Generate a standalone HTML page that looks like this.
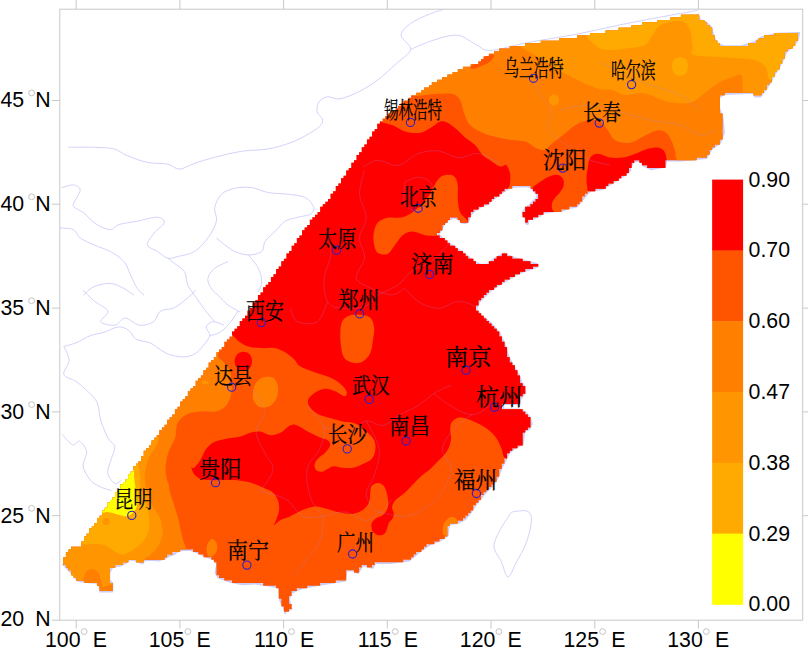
<!DOCTYPE html>
<html lang="zh"><head><meta charset="utf-8"><title>map</title>
<style>
html,body{margin:0;padding:0;background:#fff;}
body{width:808px;height:654px;position:relative;overflow:hidden;font-family:"Liberation Sans","Noto Sans CJK SC",sans-serif;}
.t{position:absolute;white-space:pre;line-height:1;color:#000;}
.ax{font-size:21.3px;}
.city{-webkit-text-stroke:0.25px #000;font-family:"Liberation Serif","Noto Serif CJK SC",serif;transform-origin:0 0;}
</style></head><body>
<svg width="808" height="654" viewBox="0 0 808 654" style="position:absolute;left:0;top:0">
<defs><clipPath id="land"><path d="M385.11,118.62 L385.11,116.02 L387.7,116.02 L387.7,113.43 L390.3,113.43 L390.3,110.83 L392.89,110.83 L395.49,110.83 L395.49,108.23 L398.08,108.23 L398.08,105.64 L400.68,105.64 L400.68,103.05 L403.27,103.05 L403.27,100.45 L405.87,100.45 L408.46,100.45 L408.46,97.86 L411.06,97.86 L411.06,95.26 L413.65,95.26 L416.25,95.26 L416.25,92.67 L418.84,92.67 L421.44,92.67 L421.44,90.07 L424.03,90.07 L424.03,87.47 L426.63,87.47 L429.22,87.47 L429.22,84.88 L431.82,84.88 L431.82,82.28 L434.41,82.28 L437.01,82.28 L437.01,79.69 L439.6,79.69 L442.2,79.69 L442.2,77.09 L444.79,77.09 L447.39,77.09 L447.39,74.5 L449.98,74.5 L452.58,74.5 L452.58,71.91 L455.17,71.91 L457.77,71.91 L457.77,69.31 L460.36,69.31 L462.96,69.31 L462.96,66.72 L465.55,66.72 L468.15,66.72 L470.74,66.72 L470.74,64.12 L473.34,64.12 L475.93,64.12 L478.53,64.12 L478.53,61.52 L481.12,61.52 L481.12,58.93 L483.72,58.93 L483.72,56.34 L486.31,56.34 L488.91,56.34 L488.91,53.74 L491.5,53.74 L494.1,53.74 L494.1,51.14 L496.69,51.14 L499.29,51.14 L499.29,48.55 L501.88,48.55 L504.48,48.55 L507.07,48.55 L509.67,48.55 L509.67,45.95 L512.26,45.95 L514.86,45.95 L517.45,45.95 L520.05,45.95 L522.64,45.95 L525.24,45.95 L525.24,43.36 L527.83,43.36 L530.43,43.36 L533.02,43.36 L535.62,43.36 L538.21,43.36 L540.81,43.36 L540.81,40.77 L543.4,40.77 L546,40.77 L548.59,40.77 L551.19,40.77 L553.78,40.77 L556.38,40.77 L558.97,40.77 L558.97,38.17 L561.57,38.17 L564.16,38.17 L566.75,38.17 L569.35,38.17 L571.95,38.17 L574.54,38.17 L577.13,38.17 L577.13,35.58 L579.73,35.58 L582.33,35.58 L584.92,35.58 L587.51,35.58 L590.11,35.58 L590.11,32.98 L592.71,32.98 L595.3,32.98 L597.89,32.98 L600.49,32.98 L603.09,32.98 L605.68,32.98 L605.68,30.38 L608.27,30.38 L610.87,30.38 L613.47,30.38 L616.06,30.38 L618.65,30.38 L618.65,27.79 L621.25,27.79 L623.85,27.79 L626.44,27.79 L629.03,27.79 L631.63,27.79 L631.63,25.19 L634.23,25.19 L636.82,25.19 L639.41,25.19 L642.01,25.19 L642.01,22.6 L644.61,22.6 L647.2,22.6 L649.79,22.6 L652.39,22.6 L654.99,22.6 L657.58,22.6 L657.58,20 L660.17,20 L662.77,20 L665.37,20 L667.96,20 L670.55,20 L670.55,17.41 L673.15,17.41 L675.75,17.41 L678.34,17.41 L680.93,17.41 L680.93,14.81 L683.53,14.81 L686.12,14.81 L688.72,14.81 L691.32,14.81 L693.91,14.81 L696.5,14.81 L699.1,14.81 L699.1,17.41 L699.1,20 L701.7,20 L704.29,20 L704.29,22.6 L706.88,22.6 L706.88,25.19 L709.48,25.19 L709.48,27.79 L712.08,27.79 L712.08,30.38 L712.08,32.98 L712.08,35.58 L714.67,35.58 L714.67,38.17 L714.67,40.77 L717.26,40.77 L717.26,43.36 L719.86,43.36 L719.86,45.95 L722.46,45.95 L725.05,45.95 L727.64,45.95 L730.24,45.95 L732.84,45.95 L735.43,45.95 L738.02,45.95 L740.62,45.95 L743.22,45.95 L745.81,45.95 L748.4,45.95 L748.4,43.36 L751,43.36 L753.6,43.36 L756.19,43.36 L756.19,40.77 L758.78,40.77 L758.78,38.17 L761.38,38.17 L763.98,38.17 L763.98,35.58 L766.57,35.58 L769.16,35.58 L771.76,35.58 L774.36,35.58 L774.36,32.98 L776.95,32.98 L779.54,32.98 L782.14,32.98 L784.74,32.98 L787.33,32.98 L789.92,32.98 L792.52,32.98 L795.12,32.98 L797.71,32.98 L797.71,35.58 L797.71,38.17 L797.71,40.77 L795.12,40.77 L795.12,43.36 L795.12,45.95 L792.52,45.95 L792.52,48.55 L789.92,48.55 L787.33,48.55 L787.33,51.14 L784.74,51.14 L784.74,53.74 L784.74,56.34 L784.74,58.93 L782.14,58.93 L782.14,61.52 L782.14,64.12 L779.54,64.12 L779.54,66.72 L779.54,69.31 L776.95,69.31 L776.95,71.91 L774.36,71.91 L774.36,74.5 L774.36,77.09 L771.76,77.09 L771.76,79.69 L771.76,82.28 L769.16,82.28 L769.16,84.88 L766.57,84.88 L766.57,87.47 L766.57,90.07 L763.98,90.07 L763.98,92.67 L761.38,92.67 L761.38,95.26 L758.78,95.26 L756.19,95.26 L753.6,95.26 L753.6,92.67 L751,92.67 L748.4,92.67 L745.81,92.67 L743.22,92.67 L740.62,92.67 L738.02,92.67 L735.43,92.67 L732.84,92.67 L730.24,92.67 L727.64,92.67 L725.05,92.67 L725.05,95.26 L722.46,95.26 L719.86,95.26 L719.86,97.86 L719.86,100.45 L719.86,103.05 L719.86,105.64 L719.86,108.23 L719.86,110.83 L719.86,113.43 L722.46,113.43 L722.46,116.02 L722.46,118.62 L722.46,121.21 L722.46,123.81 L722.46,126.4 L722.46,129 L722.46,131.59 L725.05,131.59 L722.46,131.59 L722.46,134.19 L722.46,136.78 L722.46,139.38 L719.86,139.38 L719.86,141.97 L719.86,144.56 L717.26,144.56 L714.67,144.56 L714.67,147.16 L712.08,147.16 L712.08,149.75 L709.48,149.75 L709.48,152.35 L709.48,154.94 L706.88,154.94 L706.88,157.54 L704.29,157.54 L701.7,157.54 L699.1,157.54 L696.5,157.54 L696.5,160.13 L693.91,160.13 L691.32,160.13 L688.72,160.13 L686.12,160.13 L683.53,160.13 L680.93,160.13 L678.34,160.13 L675.75,160.13 L673.15,160.13 L670.55,160.13 L667.96,160.13 L665.37,160.13 L665.37,162.73 L665.37,165.32 L665.37,167.92 L662.77,167.92 L660.17,167.92 L657.58,167.92 L654.99,167.92 L652.39,167.92 L649.79,167.92 L647.2,167.92 L647.2,165.32 L644.61,165.32 L642.01,165.32 L642.01,162.73 L639.41,162.73 L639.41,160.13 L636.82,160.13 L634.23,160.13 L634.23,162.73 L631.63,162.73 L631.63,165.32 L631.63,167.92 L629.03,167.92 L629.03,170.52 L631.63,170.52 L629.03,170.52 L629.03,173.11 L626.44,173.11 L626.44,175.71 L623.85,175.71 L621.25,175.71 L621.25,178.3 L618.65,178.3 L618.65,180.9 L616.06,180.9 L613.47,180.9 L613.47,183.49 L610.87,183.49 L608.27,183.49 L608.27,186.09 L605.68,186.09 L605.68,188.68 L603.09,188.68 L600.49,188.68 L597.89,188.68 L595.3,188.68 L595.3,191.28 L592.71,191.28 L590.11,191.28 L587.51,191.28 L587.51,193.87 L584.92,193.87 L584.92,196.47 L582.33,196.47 L582.33,199.06 L582.33,201.66 L579.73,201.66 L579.73,204.25 L577.13,204.25 L577.13,206.85 L574.54,206.85 L571.95,206.85 L569.35,206.85 L569.35,209.44 L566.75,209.44 L564.16,209.44 L561.57,209.44 L561.57,212.04 L558.97,212.04 L556.38,212.04 L553.78,212.04 L551.19,212.04 L548.59,212.04 L546,212.04 L543.4,212.04 L543.4,214.63 L540.81,214.63 L538.21,214.63 L538.21,217.23 L535.62,217.23 L533.02,217.23 L533.02,219.82 L530.43,219.82 L527.83,219.82 L527.83,222.42 L527.83,225.01 L527.83,222.42 L525.24,222.42 L525.24,219.82 L525.24,217.23 L522.64,217.23 L522.64,214.63 L522.64,212.04 L525.24,212.04 L525.24,209.44 L525.24,206.85 L527.83,206.85 L530.43,206.85 L530.43,204.25 L533.02,204.25 L533.02,201.66 L535.62,201.66 L535.62,199.06 L538.21,199.06 L538.21,196.47 L538.21,193.87 L535.62,193.87 L535.62,191.28 L533.02,191.28 L533.02,188.68 L530.43,188.68 L530.43,186.09 L527.83,186.09 L525.24,186.09 L522.64,186.09 L520.05,186.09 L517.45,186.09 L514.86,186.09 L512.26,186.09 L512.26,188.68 L509.67,188.68 L507.07,188.68 L504.48,188.68 L504.48,191.28 L501.88,191.28 L501.88,193.87 L499.29,193.87 L499.29,196.47 L496.69,196.47 L494.1,196.47 L494.1,199.06 L491.5,199.06 L491.5,201.66 L488.91,201.66 L488.91,204.25 L486.31,204.25 L483.72,204.25 L483.72,206.85 L481.12,206.85 L478.53,206.85 L478.53,209.44 L475.93,209.44 L473.34,209.44 L473.34,212.04 L470.74,212.04 L470.74,214.63 L470.74,217.23 L468.15,217.23 L468.15,219.82 L468.15,222.42 L465.55,222.42 L462.96,222.42 L460.36,222.42 L460.36,219.82 L457.77,219.82 L457.77,217.23 L455.17,217.23 L452.58,217.23 L449.98,217.23 L449.98,219.82 L447.39,219.82 L447.39,222.42 L444.79,222.42 L444.79,225.01 L442.2,225.01 L442.2,227.61 L442.2,230.2 L439.6,230.2 L439.6,232.8 L437.01,232.8 L437.01,235.39 L439.6,235.39 L439.6,237.99 L442.2,237.99 L444.79,237.99 L444.79,240.58 L447.39,240.58 L447.39,243.18 L449.98,243.18 L449.98,245.77 L452.58,245.77 L455.17,245.77 L455.17,248.37 L457.77,248.37 L457.77,250.96 L460.36,250.96 L462.96,250.96 L462.96,253.56 L465.55,253.56 L465.55,256.15 L468.15,256.15 L468.15,258.75 L470.74,258.75 L473.34,258.75 L473.34,261.34 L475.93,261.34 L475.93,263.94 L478.53,263.94 L481.12,263.94 L483.72,263.94 L486.31,263.94 L488.91,263.94 L488.91,261.34 L491.5,261.34 L494.1,261.34 L494.1,258.75 L496.69,258.75 L496.69,256.15 L499.29,256.15 L501.88,256.15 L501.88,253.56 L504.48,253.56 L507.07,253.56 L507.07,256.15 L509.67,256.15 L512.26,256.15 L512.26,258.75 L514.86,258.75 L517.45,258.75 L520.05,258.75 L522.64,258.75 L522.64,261.34 L525.24,261.34 L527.83,261.34 L530.43,261.34 L530.43,263.94 L533.02,263.94 L535.62,263.94 L538.21,263.94 L538.21,266.53 L535.62,266.53 L533.02,266.53 L533.02,269.12 L530.43,269.12 L527.83,269.12 L525.24,269.12 L525.24,271.72 L522.64,271.72 L520.05,271.72 L520.05,274.31 L517.45,274.31 L514.86,274.31 L514.86,276.91 L512.26,276.91 L509.67,276.91 L509.67,279.5 L507.07,279.5 L504.48,279.5 L504.48,282.1 L501.88,282.1 L501.88,284.69 L499.29,284.69 L496.69,284.69 L496.69,287.29 L494.1,287.29 L494.1,289.88 L491.5,289.88 L488.91,289.88 L488.91,292.48 L486.31,292.48 L486.31,295.08 L483.72,295.08 L483.72,297.67 L481.12,297.67 L481.12,300.27 L478.53,300.27 L478.53,302.86 L478.53,305.46 L475.93,305.46 L475.93,308.05 L475.93,310.65 L478.53,310.65 L478.53,313.24 L481.12,313.24 L481.12,315.84 L483.72,315.84 L483.72,318.43 L486.31,318.43 L486.31,321.03 L488.91,321.03 L488.91,323.62 L491.5,323.62 L491.5,326.22 L494.1,326.22 L494.1,328.81 L496.69,328.81 L496.69,331.41 L499.29,331.41 L499.29,334 L499.29,336.6 L501.88,336.6 L501.88,339.19 L501.88,341.79 L504.48,341.79 L504.48,344.38 L504.48,346.98 L507.07,346.98 L507.07,349.57 L507.07,352.17 L507.07,354.76 L507.07,357.36 L509.67,357.36 L509.67,359.95 L509.67,362.55 L512.26,362.55 L512.26,365.14 L514.86,365.14 L514.86,367.74 L514.86,370.33 L517.45,370.33 L517.45,372.93 L517.45,375.52 L520.05,375.52 L520.05,378.12 L520.05,380.71 L520.05,383.31 L522.64,383.31 L520.05,383.31 L520.05,380.71 L520.05,383.31 L522.64,383.31 L522.64,385.9 L525.24,385.9 L525.24,388.5 L525.24,391.09 L525.24,393.69 L522.64,393.69 L522.64,396.28 L520.05,396.28 L520.05,398.88 L520.05,401.47 L520.05,404.06 L517.45,404.06 L514.86,404.06 L512.26,404.06 L509.67,404.06 L507.07,404.06 L504.48,404.06 L501.88,404.06 L501.88,406.66 L501.88,409.25 L504.48,409.25 L507.07,409.25 L509.67,409.25 L512.26,409.25 L514.86,409.25 L517.45,409.25 L520.05,409.25 L522.64,409.25 L522.64,411.85 L525.24,411.85 L525.24,414.44 L527.83,414.44 L527.83,417.04 L530.43,417.04 L530.43,419.63 L530.43,422.23 L530.43,424.82 L530.43,427.42 L527.83,427.42 L527.83,430.01 L525.24,430.01 L525.24,432.61 L522.64,432.61 L522.64,435.21 L522.64,437.8 L522.64,440.4 L522.64,442.99 L522.64,445.59 L520.05,445.59 L517.45,445.59 L517.45,448.18 L514.86,448.18 L512.26,448.18 L512.26,450.78 L509.67,450.78 L509.67,453.37 L507.07,453.37 L507.07,455.97 L507.07,458.56 L504.48,458.56 L504.48,461.16 L504.48,463.75 L501.88,463.75 L501.88,466.35 L501.88,468.94 L499.29,468.94 L499.29,471.54 L499.29,474.13 L499.29,476.73 L496.69,476.73 L496.69,479.32 L496.69,481.92 L494.1,481.92 L494.1,484.51 L491.5,484.51 L491.5,487.11 L488.91,487.11 L488.91,489.7 L486.31,489.7 L486.31,492.3 L483.72,492.3 L483.72,494.89 L481.12,494.89 L481.12,497.49 L481.12,500.08 L478.53,500.08 L478.53,502.68 L475.93,502.68 L475.93,505.27 L473.34,505.27 L473.34,507.87 L473.34,510.46 L470.74,510.46 L470.74,513.06 L468.15,513.06 L468.15,515.65 L465.55,515.65 L465.55,518.25 L462.96,518.25 L462.96,520.84 L460.36,520.84 L457.77,520.84 L457.77,523.44 L455.17,523.44 L452.58,523.44 L449.98,523.44 L449.98,526.03 L447.39,526.03 L447.39,528.62 L447.39,531.22 L447.39,533.82 L447.39,536.41 L444.79,536.41 L444.79,539 L442.2,539 L439.6,539 L439.6,541.6 L437.01,541.6 L434.41,541.6 L434.41,544.2 L431.82,544.2 L429.22,544.2 L426.63,544.2 L426.63,546.79 L424.03,546.79 L424.03,549.39 L421.44,549.39 L421.44,551.98 L418.84,551.98 L416.25,551.98 L416.25,554.58 L413.65,554.58 L413.65,557.17 L411.06,557.17 L411.06,559.77 L408.46,559.77 L405.87,559.77 L403.27,559.77 L403.27,562.36 L400.68,562.36 L398.08,562.36 L395.49,562.36 L392.89,562.36 L390.3,562.36 L387.7,562.36 L385.11,562.36 L382.51,562.36 L379.92,562.36 L377.32,562.36 L374.73,562.36 L374.73,564.96 L372.13,564.96 L372.13,567.55 L369.54,567.55 L366.94,567.55 L366.94,564.96 L364.35,564.96 L361.75,564.96 L361.75,567.55 L359.16,567.55 L359.16,570.15 L359.16,572.74 L356.56,572.74 L353.97,572.74 L353.97,570.15 L351.37,570.15 L348.78,570.15 L346.18,570.15 L346.18,572.74 L346.18,575.34 L346.18,577.93 L346.18,580.53 L343.59,580.53 L340.99,580.53 L338.4,580.53 L335.8,580.53 L335.8,583.12 L333.21,583.12 L330.61,583.12 L328.02,583.12 L325.42,583.12 L322.82,583.12 L320.23,583.12 L320.23,585.72 L317.63,585.72 L315.04,585.72 L312.44,585.72 L309.85,585.72 L307.25,585.72 L307.25,588.31 L304.66,588.31 L302.06,588.31 L299.47,588.31 L296.88,588.31 L296.88,590.91 L294.28,590.91 L291.69,590.91 L291.69,593.5 L291.69,596.1 L289.09,596.1 L289.09,598.69 L289.09,601.29 L289.09,603.88 L291.69,603.88 L291.69,606.48 L291.69,609.07 L289.09,609.07 L289.09,611.67 L286.5,611.67 L283.9,611.67 L286.5,611.67 L283.9,611.67 L283.9,609.07 L283.9,606.48 L281.31,606.48 L281.31,603.88 L281.31,601.29 L281.31,598.69 L278.71,598.69 L278.71,596.1 L278.71,593.5 L278.71,590.91 L278.71,588.31 L276.12,588.31 L276.12,585.72 L273.52,585.72 L270.93,585.72 L268.33,585.72 L265.74,585.72 L263.14,585.72 L263.14,583.12 L260.55,583.12 L257.95,583.12 L255.36,583.12 L252.76,583.12 L250.17,583.12 L247.57,583.12 L244.98,583.12 L242.38,583.12 L239.79,583.12 L237.19,583.12 L234.6,583.12 L232,583.12 L232,580.53 L229.41,580.53 L226.81,580.53 L224.22,580.53 L224.22,577.93 L221.62,577.93 L219.03,577.93 L219.03,575.34 L216.43,575.34 L216.43,572.74 L216.43,570.15 L216.43,567.55 L216.43,564.96 L216.43,562.36 L213.83,562.36 L213.83,559.77 L211.24,559.77 L211.24,557.17 L208.64,557.17 L206.05,557.17 L203.46,557.17 L203.46,554.58 L200.86,554.58 L198.26,554.58 L198.26,551.98 L195.67,551.98 L193.07,551.98 L193.07,549.39 L190.48,549.39 L187.88,549.39 L185.29,549.39 L182.69,549.39 L180.1,549.39 L180.1,551.98 L177.5,551.98 L174.91,551.98 L172.31,551.98 L172.31,554.58 L169.72,554.58 L167.12,554.58 L167.12,557.17 L164.53,557.17 L161.94,557.17 L161.94,559.77 L159.34,559.77 L161.94,559.77 L161.94,557.17 L164.53,557.17 L167.12,557.17 L169.72,557.17 L169.72,554.58 L172.31,554.58 L174.91,554.58 L172.31,554.58 L169.72,554.58 L169.72,557.17 L167.12,557.17 L164.53,557.17 L164.53,559.77 L161.94,559.77 L159.34,559.77 L156.75,559.77 L154.15,559.77 L151.56,559.77 L148.96,559.77 L146.37,559.77 L143.77,559.77 L143.77,562.36 L141.18,562.36 L138.58,562.36 L135.99,562.36 L135.99,559.77 L133.39,559.77 L130.8,559.77 L128.2,559.77 L128.2,562.36 L125.61,562.36 L123.01,562.36 L123.01,564.96 L120.41,564.96 L117.82,564.96 L115.22,564.96 L115.22,567.55 L112.63,567.55 L110.03,567.55 L110.03,570.15 L110.03,572.74 L110.03,575.34 L110.03,577.93 L110.03,580.53 L110.03,583.12 L112.63,583.12 L112.63,585.72 L112.63,588.31 L112.63,590.91 L110.03,590.91 L107.44,590.91 L104.84,590.91 L102.25,590.91 L99.66,590.91 L99.66,588.31 L99.66,585.72 L97.06,585.72 L97.06,583.12 L94.47,583.12 L91.87,583.12 L89.28,583.12 L86.68,583.12 L84.08,583.12 L84.08,580.53 L81.49,580.53 L78.89,580.53 L76.3,580.53 L76.3,577.93 L73.7,577.93 L73.7,575.34 L71.11,575.34 L71.11,572.74 L71.11,570.15 L68.52,570.15 L68.52,567.55 L65.92,567.55 L65.92,564.96 L63.32,564.96 L63.32,562.36 L63.32,559.77 L63.32,557.17 L65.92,557.17 L65.92,554.58 L65.92,551.98 L68.52,551.98 L68.52,549.39 L71.11,549.39 L71.11,546.79 L73.7,546.79 L76.3,546.79 L78.89,546.79 L81.49,546.79 L81.49,544.2 L81.49,541.6 L84.08,541.6 L84.08,539 L84.08,536.41 L86.68,536.41 L86.68,533.82 L89.28,533.82 L89.28,531.22 L89.28,528.62 L91.87,528.62 L91.87,526.03 L94.47,526.03 L94.47,523.44 L97.06,523.44 L97.06,520.84 L97.06,518.25 L99.66,518.25 L99.66,515.65 L102.25,515.65 L102.25,513.06 L102.25,510.46 L104.84,510.46 L104.84,507.87 L107.44,507.87 L107.44,505.27 L107.44,502.68 L110.03,502.68 L110.03,500.08 L112.63,500.08 L112.63,497.49 L115.22,497.49 L115.22,494.89 L115.22,492.3 L117.82,492.3 L117.82,489.7 L120.41,489.7 L120.41,487.11 L120.41,484.51 L123.01,484.51 L123.01,481.92 L125.61,481.92 L125.61,479.32 L128.2,479.32 L128.2,476.73 L128.2,474.13 L130.8,474.13 L130.8,471.54 L133.39,471.54 L133.39,468.94 L133.39,466.35 L135.99,466.35 L135.99,463.75 L138.58,463.75 L138.58,461.16 L141.18,461.16 L141.18,458.56 L141.18,455.97 L143.77,455.97 L143.77,453.37 L143.77,450.78 L146.37,450.78 L146.37,448.18 L148.96,448.18 L148.96,445.59 L151.56,445.59 L151.56,442.99 L151.56,440.4 L154.15,440.4 L154.15,437.8 L156.75,437.8 L156.75,435.21 L159.34,435.21 L159.34,432.61 L159.34,430.01 L161.94,430.01 L161.94,427.42 L164.53,427.42 L164.53,424.82 L167.12,424.82 L167.12,422.23 L167.12,419.63 L169.72,419.63 L169.72,417.04 L172.31,417.04 L172.31,414.44 L174.91,414.44 L174.91,411.85 L174.91,409.25 L177.5,409.25 L177.5,406.66 L180.1,406.66 L180.1,404.06 L180.1,401.47 L182.69,401.47 L182.69,398.88 L185.29,398.88 L185.29,396.28 L187.88,396.28 L187.88,393.69 L187.88,391.09 L190.48,391.09 L190.48,388.5 L193.07,388.5 L193.07,385.9 L195.67,385.9 L195.67,383.31 L195.67,380.71 L198.26,380.71 L198.26,378.12 L200.86,378.12 L200.86,375.52 L203.46,375.52 L203.46,372.93 L203.46,370.33 L206.05,370.33 L206.05,367.74 L208.64,367.74 L208.64,365.14 L208.64,362.55 L211.24,362.55 L211.24,359.95 L213.83,359.95 L213.83,357.36 L216.43,357.36 L216.43,354.76 L216.43,352.17 L219.03,352.17 L219.03,349.57 L221.62,349.57 L221.62,346.98 L224.22,346.98 L224.22,344.38 L224.22,341.79 L226.81,341.79 L226.81,339.19 L229.41,339.19 L229.41,336.6 L232,336.6 L232,334 L232,331.41 L234.6,331.41 L234.6,328.81 L237.19,328.81 L237.19,326.22 L239.79,326.22 L239.79,323.62 L239.79,321.03 L242.38,321.03 L242.38,318.43 L244.98,318.43 L244.98,315.84 L247.57,315.84 L247.57,313.24 L247.57,310.65 L250.17,310.65 L250.17,308.05 L252.76,308.05 L252.76,305.46 L252.76,302.86 L255.36,302.86 L255.36,300.27 L257.95,300.27 L257.95,297.67 L257.95,295.08 L260.55,295.08 L260.55,292.48 L263.14,292.48 L263.14,289.88 L263.14,287.29 L265.74,287.29 L265.74,284.69 L268.33,284.69 L268.33,282.1 L270.93,282.1 L270.93,279.5 L270.93,276.91 L273.52,276.91 L273.52,274.31 L276.12,274.31 L276.12,271.72 L276.12,269.12 L278.71,269.12 L278.71,266.53 L281.31,266.53 L281.31,263.94 L281.31,261.34 L283.9,261.34 L283.9,258.75 L286.5,258.75 L286.5,256.15 L286.5,253.56 L289.09,253.56 L289.09,250.96 L291.69,250.96 L291.69,248.37 L291.69,245.77 L294.28,245.77 L294.28,243.18 L296.88,243.18 L296.88,240.58 L296.88,237.99 L299.47,237.99 L299.47,235.39 L302.06,235.39 L302.06,232.8 L302.06,230.2 L304.66,230.2 L304.66,227.61 L307.25,227.61 L307.25,225.01 L309.85,225.01 L309.85,222.42 L309.85,219.82 L312.44,219.82 L312.44,217.23 L315.04,217.23 L315.04,214.63 L317.63,214.63 L317.63,212.04 L320.23,212.04 L320.23,209.44 L320.23,206.85 L322.82,206.85 L322.82,204.25 L325.42,204.25 L325.42,201.66 L328.02,201.66 L328.02,199.06 L330.61,199.06 L330.61,196.47 L330.61,193.87 L333.21,193.87 L333.21,191.28 L335.8,191.28 L335.8,188.68 L335.8,186.09 L338.4,186.09 L338.4,183.49 L340.99,183.49 L340.99,180.9 L340.99,178.3 L343.59,178.3 L343.59,175.71 L346.18,175.71 L346.18,173.11 L346.18,170.52 L348.78,170.52 L348.78,167.92 L351.37,167.92 L351.37,165.32 L351.37,162.73 L353.97,162.73 L353.97,160.13 L356.56,160.13 L356.56,157.54 L356.56,154.94 L359.16,154.94 L359.16,152.35 L361.75,152.35 L361.75,149.75 L361.75,147.16 L364.35,147.16 L364.35,144.56 L366.94,144.56 L366.94,141.97 L366.94,139.38 L369.54,139.38 L369.54,136.78 L372.13,136.78 L372.13,134.19 L372.13,131.59 L374.73,131.59 L374.73,129 L377.32,129 L377.32,126.4 L377.32,123.81 L379.92,123.81 L379.92,121.21 L382.51,121.21 L382.51,118.62 L385.11,118.62Z"/></clipPath></defs>
<g fill="none" stroke="#cdcdfa" stroke-width="0.9">
<path d="M68.4,147.3 C72.6,147.3 86.0,147.0 93.6,147.3 C101.2,147.6 108.2,147.5 113.8,148.9 C119.4,150.3 121.6,153.4 127.2,155.7 C132.8,157.9 140.7,161.0 147.4,162.4 C154.1,163.8 162.3,163.0 167.6,164.1 C172.9,165.2 174.9,169.2 179.4,169.1 C183.9,169.0 188.6,165.4 194.5,163.4 C200.4,161.4 206.8,159.3 214.7,157.3 C222.5,155.3 232.6,152.7 241.6,151.3 C250.6,149.9 260.1,150.4 268.5,148.9 C276.9,147.4 285.3,144.7 292,142.2 C298.7,139.7 304.0,136.6 308.8,133.8 C313.6,131.0 318.4,127.9 320.6,125.4 C322.9,122.9 322.9,121.0 322.3,118.7 C321.7,116.5 317.8,114.7 317.2,111.9 C316.6,109.1 317.2,104.4 318.9,101.9 C320.6,99.4 323.8,97.3 327.3,96.8 C330.8,96.3 334.8,99.6 340,98.8 C345.2,98.0 352.5,94.8 358.8,91.7 C365.1,88.6 371.3,84.7 377.6,80 C383.9,75.3 390.9,68.6 396.4,63.5 C401.9,58.4 409.8,54.1 410.6,49.4 C411.4,44.7 401.1,39.6 401.1,35.3 C401.1,31.0 405.9,27.0 410.6,23.5 C415.3,20.0 423.9,16.4 429.4,14.1 C434.9,11.8 441.1,10.2 443.5,9.4"/>
<path d="M410.6,49.4 C414.5,47.8 426.2,42.4 434,40 C441.8,37.6 450.5,34.5 457.6,35.3 C464.7,36.1 470.9,42.2 476.4,44.7 C481.9,47.2 481.9,50.9 490.5,50.5 C499.1,50.1 513.9,45.2 528,42.5 C542.1,39.8 559.3,37.5 575,34.5 C590.7,31.5 606.3,27.7 622,24.5 C637.7,21.3 656.4,17.8 669,15.5 C681.6,13.2 692.8,11.3 697.5,10.5"/>
<path d="M61.7,187.6 C63.7,187.2 70.3,184.6 73.4,184.9 C76.5,185.2 79.6,187.2 80.2,189.3 C80.8,191.4 77.9,194.9 76.8,197.7 C75.7,200.5 72.3,203.6 73.4,206.1 C74.5,208.6 79.6,209.7 83.5,212.8 C87.4,215.9 92.5,221.8 97,224.6 C101.5,227.4 106.8,229.6 110.4,229.6 C114.0,229.6 114.3,226.0 118.8,224.6 C123.3,223.2 130.9,222.4 137.3,221.2 C143.8,220.0 153.0,216.9 157.5,217.2 C162.0,217.5 164.8,220.3 164.2,222.9 C163.6,225.5 156.9,229.3 154.1,233 C151.3,236.7 146.8,241.7 147.4,244.8 C148.0,247.9 154.1,249.3 157.5,251.5 C160.9,253.7 164.2,257.4 167.6,258.2 C171.0,259.0 173.2,257.6 177.7,256.5 C182.2,255.4 189.5,254.6 194.5,251.5 C199.5,248.4 204.2,243.1 207.9,238 C211.6,232.9 215.3,226.2 216.4,221.2 C217.5,216.2 213.9,212.3 214.7,207.8 C215.5,203.3 218.1,197.6 221.4,194.3 C224.8,191.1 229.8,189.4 234.8,188.3 C239.9,187.2 246.1,186.9 251.7,187.6 C257.3,188.3 262.4,191.5 268.5,192.6 C274.6,193.7 282.4,193.5 288.6,194.3 C294.8,195.2 301.3,195.4 305.5,197.7 C309.7,199.9 313.1,205.0 313.9,207.8 C314.7,210.6 311.1,213.4 310.5,214.5"/>
<path d="M310.5,214.5 C308.0,215.1 299.6,216.8 295.4,217.9 C291.2,219.0 288.7,219.0 285.3,221.2 C281.9,223.4 278.6,227.9 275.2,231.3 C271.8,234.7 267.4,238.0 265.1,241.4 C262.9,244.8 264.5,249.2 261.7,251.5 C258.9,253.8 252.8,254.9 248.3,254.9 C243.8,254.9 238.7,253.2 234.8,251.5 C230.9,249.8 227.9,247.1 224.8,244.8 C221.7,242.6 217.8,239.1 216.4,238"/>
<path d="M60,228 C62.2,228.3 70.0,227.9 73.4,229.6 C76.8,231.3 76.8,235.5 80.2,238 C83.6,240.5 88.6,242.6 93.6,244.8 C98.6,247.1 105.4,248.7 110.4,251.5 C115.5,254.3 120.5,257.7 123.9,261.6 C127.3,265.5 128.4,270.5 130.6,275 C132.8,279.5 135.1,285.1 137.3,288.5 C139.6,291.9 143.0,294.1 144.1,295.2"/>
<path d="M167.6,258.2 C168.7,259.1 171.5,261.1 174.3,263.3 C177.1,265.6 182.2,268.1 184.4,271.7 C186.7,275.3 186.1,281.2 187.8,285.1 C189.5,289.0 191.6,291.1 194.5,295.2 C197.4,299.3 201.6,305.5 205,310 C208.4,314.5 213.3,320.0 215,322"/>
<path d="M228.1,261.6 C225.9,262.7 218.1,265.5 214.7,268.3 C211.3,271.1 208.5,275.0 207.9,278.4 C207.3,281.8 209.6,285.7 211.3,288.5 C213.0,291.3 215.2,292.4 218,295.2 C220.8,297.9 224.3,302.2 228,305 C231.7,307.8 238.0,310.8 240,312"/>
<path d="M248.3,254.9 C250.0,257.1 256.2,263.8 258.4,268.3 C260.6,272.8 261.7,277.9 261.7,281.8 C261.7,285.7 258.9,290.2 258.4,291.9"/>
<path d="M83.5,295.2 C85.2,293.8 89.1,288.8 93.6,286.8 C98.1,284.8 105.4,283.1 110.4,283.4 C115.5,283.7 120.0,286.5 123.9,288.5 C127.8,290.5 132.3,294.1 134,295.2"/>
<path d="M63.8,346.3 C65.8,345.7 71.7,344.6 76.1,342.8 C80.5,341.0 85.5,337.5 90.2,335.7 C94.9,333.9 99.5,333.7 104.2,332.2 C108.9,330.7 114.2,327.2 118.3,326.9 C122.4,326.6 126.0,328.3 128.9,330.4 C131.8,332.4 132.4,337.1 135.9,339.2 C139.4,341.3 145.9,341.0 150,342.8 C154.1,344.6 157.0,347.8 160.5,349.8 C164.0,351.9 167.0,353.9 171.1,355.1 C175.2,356.3 181.0,357.1 185.1,356.8 C189.2,356.5 192.8,355.1 195.7,353.3 C198.6,351.6 200.3,349.2 202.7,346.3 C205.0,343.4 209.2,338.9 209.8,335.7 C210.4,332.5 205.6,329.2 206.2,326.9 C206.8,324.6 210.4,322.0 213.3,321.7 C216.2,321.4 222.1,324.6 223.8,325.2"/>
<path d="M63.8,346.3 C64.7,348.6 69.1,355.7 69.1,360.4 C69.1,365.1 62.6,370.9 63.8,374.4 C65.0,377.9 72.0,378.6 76.1,381.5 C80.2,384.4 84.9,388.5 88.4,392 C91.9,395.5 95.2,397.9 97.2,402.6 C99.2,407.3 98.9,414.2 100.7,420.1 C102.5,426.0 105.5,433.3 107.8,437.7 C110.1,442.1 114.2,443.0 114.8,446.5 C115.4,450.0 112.5,454.4 111.3,458.8 C110.1,463.2 107.2,468.8 107.8,472.9 C108.4,477.0 112.5,482.3 114.8,483.5 C117.1,484.7 120.6,480.5 121.8,479.9"/>
<path d="M62,434.2 C63.8,436.0 69.7,443.6 72.6,444.8 C75.5,446.0 77.2,440.0 79.6,441.2 C81.9,442.4 86.1,447.7 86.7,451.8 C87.3,455.9 82.5,461.2 83.1,465.9 C83.7,470.6 87.3,476.4 90.2,479.9 C93.1,483.4 97.2,485.2 100.7,487 C104.2,488.8 109.5,489.9 111.3,490.5"/>
<path d="M83.1,290 C84.9,291.8 89.6,297.1 93.7,300.6 C97.8,304.1 106.6,307.6 107.8,311.1 C109.0,314.6 99.5,319.4 100.7,321.7 C101.9,324.0 110.7,325.8 114.8,325.2 C118.9,324.6 121.2,318.1 125.3,318.1 C129.4,318.1 134.7,324.6 139.4,325.2 C144.1,325.8 150.0,324.0 153.5,321.7 C157.0,319.4 157.0,313.5 160.5,311.1 C164.0,308.8 169.9,310.0 174.6,307.6 C179.3,305.2 185.2,299.9 188.7,297 C192.2,294.1 194.5,291.2 195.7,290"/>
<path d="M209.8,335.7 C211.6,335.1 216.8,334.5 220.3,332.2 C223.8,329.9 228.0,325.2 230.9,321.7 C233.8,318.2 236.7,312.9 237.9,311.1"/>
<path d="M511.5,512 C514.0,511.8 523.2,509.8 526.5,511 C529.8,512.2 531.5,514.3 531.5,519.5 C531.5,524.7 529.0,534.9 526.5,542 C524.0,549.1 519.6,556.2 516.5,562 C513.4,567.8 510.5,577.0 508,577 C505.5,577.0 503.8,567.0 501.5,562 C499.2,557.0 494.4,552.0 494,547 C493.6,542.0 496.9,536.6 499,532 C501.1,527.4 504.4,522.8 506.5,519.5 C508.6,516.2 510.7,513.2 511.5,512"/>
</g>
<path d="M697.5,13.8 L700,20 L706.3,22.5 L711.3,27.5 L713.8,37.6 L717.5,43.8 L723.8,46.3 L741.3,46.3 L753.9,42.6 L761.4,37.6 L776.4,33.8 L799,33.1 L797.7,40.1 L792.7,46.3 L786.5,51.4 L782.7,60.1 L778.9,67.6 L773.9,75.2 L770.2,82.7 L765.1,90.2 L760.1,96.5 L755.1,96.5 L753.9,92.7 L723.8,94 L718.8,97.7 L718.8,107.7 L722.5,117.8 L723.8,132.8 L720,142.8 L711.3,149.1 L706.3,157.9 L681.2,160.4 L666.2,160.4 L664.9,166.6 L651.1,169.1 L643.6,165.4 L639.8,160.4 L633.6,161.6 L629.8,167.9 L630.4,170.1 L622.9,176.4 L612.8,182.6 L602.8,188.9 L590,191 L587.9,192.9 L584.2,197.2 L580.5,202.2 L576.7,206.5 L569.3,207.8 L561.9,210.8 L552,211.5 L543.3,212.7 L539.6,215.8 L533.4,218.3 L528.4,219.5 L527.8,223.9 L525.9,223.2 L525.9,218.3 L523.5,215.8 L522.8,212.7 L525.9,207.8 L529.7,205.3 L532.8,201.6 L537.1,198.5 L537.7,194.7 L532.8,189.8 L529.7,186.7 L522.2,186.1 L512.9,186.7 L507.3,189.2 L502.4,192.3 L495,197.8 L490,201.6 L489.4,203.2 L482,206.1 L474.6,210.6 L470.1,215.1 L468.6,221 L465.6,223.2 L461.9,222.5 L458.2,218.8 L453.8,217.3 L447.8,220.2 L443.4,224.7 L441.1,229.9 L438.2,234.4 L441.9,238.1 L447.8,242.5 L453.8,247 L461.2,251.4 L467.1,255.9 L473.1,261.1 L480.5,264.8 L487.2,264.8 L492.4,260.3 L498.3,256.6 L504.3,253.7 L508.7,255.9 L514.7,258.1 L522.1,260.3 L531,262.6 L536.9,264.1 L537.7,266.3 L532.5,268.5 L525.1,270.7 L517.6,273.7 L510.2,278.2 L502.8,282.6 L495.3,287.1 L490.9,290.1 L489.4,292 L484,297 L479,302 L476,309 L480.2,315.2 L490.2,322.7 L499,332.7 L504,342.7 L507.8,355.3 L512.8,365.3 L519,375.3 L521.6,384.1 L519,380 L524.1,386.3 L525.3,392.5 L520.3,398.8 L519.6,403.8 L503,403.8 L503,409.6 L519.6,409.6 L524.5,411.5 L529.1,416.3 L531.6,423.9 L529.1,428.9 L524.1,431.4 L522.8,443.9 L515.3,447.7 L509,452.7 L505.3,460.2 L501.5,467.7 L497.7,477.7 L492.7,485.3 L485.2,492.8 L480.2,499 L475.2,505.3 L470.2,512.8 L465.2,519.1 L457.6,522.9 L448.9,524.1 L447.6,535.4 L440.1,540.4 L430.4,544 L422.9,549 L415.3,555.2 L409.1,560.3 L390.3,562.8 L375.2,562.8 L372.7,567.8 L367.7,566.5 L362.7,565.3 L357.7,572.8 L352.7,570.3 L346.4,570.3 L345.2,580.3 L330.1,582.8 L315.1,585.3 L302.6,587.8 L291.3,592.8 L288.8,599.1 L291.3,609.1 L285,611.6 L285.3,612.9 L284.1,607.9 L280.3,600.4 L279.1,587.8 L267.8,585.3 L255.3,583.3 L242.7,584.1 L230.2,581.6 L218.9,577.8 L215.7,572.8 L217.2,564 L213.9,559 L205.1,556.5 L198.9,552.7 L190.1,549.7 L180.1,550.2 L170.1,555.2 L160,559 L175,553.6 L170.8,555.1 L164.9,558.1 L159,560.3 L150,559.6 L144.1,560.3 L142.6,563.3 L138.2,561.8 L133.7,559.6 L129.3,559.6 L126.3,562.5 L120.3,565.5 L112.2,567 L109.2,572.9 L109.2,580.3 L112.2,583.3 L112.2,591.5 L100.3,591.5 L99.6,586.3 L96.6,582.6 L84.7,581.8 L77.3,580.3 L74.3,575.9 L69.9,571.4 L66.1,567 L62.4,564" fill="none" stroke="#cdcdfa" stroke-width="2.2" stroke-linejoin="round"/>
<g clip-path="url(#land)" shape-rendering="geometricPrecision">
<rect x="0" y="0" width="808" height="654" fill="#ff5500"/>
<path d="M378.8,120.3 C382.6,123.7 388.2,123.4 392.6,125.3 C397.0,127.2 400.5,130.2 405.1,131.5 C409.7,132.8 415.6,133.6 420.2,132.8 C424.8,132.0 429.4,128.4 432.7,126.5 C436.0,124.6 437.7,122.1 440.2,121.5 C442.7,120.9 444.8,121.3 447.7,122.8 C450.6,124.3 454.8,127.8 457.7,130.3 C460.6,132.8 462.4,135.3 465.3,137.8 C468.2,140.3 472.4,142.4 475.3,145.3 C478.2,148.2 480.3,152.8 482.8,155.3 C485.3,157.8 487.4,158.5 490.3,160.4 C493.2,162.3 497.8,165.8 500.4,166.6 C503.0,167.4 504.5,164.0 506.1,165 C507.7,166.0 509.1,170.1 509.8,172.4 C510.5,174.7 510.4,176.5 510.4,178.6 C510.4,180.7 510.2,182.9 509.8,184.8 C509.4,186.7 507.6,187.5 508,190 C508.4,192.5 510.0,191.7 512,200 C514.0,208.3 512.0,229.7 520,240 C528.0,250.3 553.3,252.0 560,262 C566.7,272.0 562.5,280.3 560,300 C557.5,319.7 547.5,358.3 545,380 C542.5,401.7 549.2,417.5 545,430 C540.8,442.5 526.6,450.2 520,455 C513.4,459.8 508.7,459.6 505.6,458.5 C502.5,457.4 502.9,451.6 501.3,448.1 C499.7,444.6 498.4,440.9 496.1,437.7 C493.8,434.5 490.6,431.6 487.4,429.1 C484.2,426.7 480.5,424.7 477,423 C473.5,421.3 469.8,419.6 466.6,418.7 C463.4,417.8 460.4,417.2 458,417.8 C455.6,418.4 453.2,420.2 451.9,422.1 C450.6,424.0 450.3,426.5 450.2,429.1 C450.1,431.7 451.1,434.8 451,437.7 C450.9,440.6 450.4,443.5 449.3,446.4 C448.2,449.3 446.1,452.5 444.1,455.1 C442.1,457.7 439.5,459.7 437.2,462 C434.9,464.3 432.9,466.6 430.3,468.9 C427.7,471.2 424.5,473.2 421.6,475.8 C418.7,478.4 415.8,481.6 412.9,484.5 C410.0,487.4 407.2,490.6 404.3,493.2 C401.4,495.8 397.6,497.8 395.6,500.1 C393.6,502.4 392.4,504.7 392.1,507 C391.8,509.3 393.9,512.0 393.9,514 C393.9,516.0 392.9,517.8 392.1,519.2 C391.3,520.7 390.1,520.5 389,522.7 C387.9,525.0 387.0,530.6 385.3,532.7 C383.6,534.8 381.1,535.4 379,535.2 C376.9,535.0 373.9,533.3 372.7,531.4 C371.4,529.5 371.1,526.0 371.5,523.9 C371.9,521.8 373.3,520.4 375.2,518.9 C377.1,517.4 380.7,517.0 382.8,515.1 C384.9,513.2 387.0,510.5 387.8,507.6 C388.6,504.7 388.4,501.2 387.8,497.6 C387.2,494.1 385.7,488.7 384,486.3 C382.3,483.9 379.8,483.1 377.7,483.1 C375.6,483.1 372.8,484.5 371.5,486.3 C370.2,488.1 370.6,491.1 370.2,493.8 C369.8,496.5 370.2,499.9 369,502.6 C367.8,505.3 365.4,508.2 362.7,510.1 C360.0,512.0 356.4,513.5 352.7,513.9 C348.9,514.3 344.4,513.4 340.2,512.6 C336.0,511.8 331.8,509.9 327.6,508.9 C323.4,507.9 319.3,506.2 315.1,506.4 C310.9,506.6 306.8,508.4 302.6,510.1 C298.4,511.8 293.8,514.7 290,516.4 C286.2,518.1 282.6,518.7 280,520.2 C277.4,521.7 274.7,525.4 274.1,525.2 C273.5,525.0 275.8,521.4 276.6,518.9 C277.4,516.4 278.9,513.2 279.1,510.1 C279.3,507.0 278.9,503.0 277.8,500.1 C276.8,497.2 275.3,494.7 272.8,492.6 C270.3,490.5 266.6,489.3 262.8,487.6 C259.1,485.9 254.9,483.9 250.3,482.6 C245.7,481.4 239.8,480.5 235.2,480.1 C230.6,479.7 226.9,480.1 222.7,480.1 C218.5,480.1 214.0,480.3 210.2,480.1 C206.4,479.9 202.8,479.9 200.1,478.8 C197.4,477.8 195.3,475.7 193.9,473.8 C192.5,471.9 191.4,468.5 191.4,467.5 C191.4,466.5 192.5,469.0 194,467.8 C195.5,466.6 198.4,463.2 200.3,460.3 C202.2,457.4 203.2,453.2 205.3,450.3 C207.4,447.4 209.5,444.7 212.8,442.8 C216.1,440.9 220.7,440.1 225.3,439 C229.9,437.9 236.2,437.6 240.4,436.5 C244.6,435.4 247.1,433.5 250.4,432.7 C253.7,431.9 257.1,431.1 260.4,431.5 C263.7,431.9 267.0,435.0 270.4,435.2 C273.8,435.4 277.1,434.4 280.5,432.7 C283.9,431.0 287.6,426.4 290.5,425.2 C293.4,424.0 294.8,424.7 297.6,425.7 C300.5,426.7 304.2,429.6 307.6,431.4 C311.0,433.2 314.4,434.9 317.7,436.4 C321.0,437.9 325.6,438.7 327.7,440.2 C329.8,441.7 330.6,443.1 330.2,445.2 C329.8,447.3 327.1,450.6 325.2,452.7 C323.3,454.8 320.6,455.8 318.9,457.7 C317.1,459.6 315.1,461.9 314.7,464 C314.3,466.1 315.1,469.1 316.4,470.3 C317.7,471.6 320.0,472.1 322.7,471.5 C325.4,470.9 329.4,467.1 332.7,466.5 C336.0,465.9 339.3,467.6 342.7,467.8 C346.1,468.0 349.4,468.4 352.8,467.8 C356.2,467.2 359.7,465.5 362.8,464 C365.9,462.5 369.5,461.3 371.6,459 C373.7,456.7 374.9,453.3 375.3,450.2 C375.7,447.1 375.4,443.1 374.1,440.2 C372.9,437.3 370.1,435.0 367.8,432.7 C365.5,430.4 362.8,428.1 360.3,426.4 C357.8,424.7 355.7,423.5 352.8,422.7 C349.9,421.9 346.5,422.2 342.7,421.4 C338.9,420.6 334.4,419.4 330.2,418.1 C326.0,416.9 321.0,415.6 317.7,413.9 C314.4,412.1 311.8,409.9 310.2,407.6 C308.6,405.3 307.3,402.6 308.1,400.1 C308.9,397.6 312.4,394.5 315.2,392.6 C318.0,390.7 321.9,389.0 325.2,388.8 C328.5,388.6 331.9,390.1 335.2,391.3 C338.4,392.6 342.8,396.3 344.7,396.3 C346.6,396.3 347.2,393.4 346.5,391.3 C345.8,389.2 342.9,386.1 340.2,383.8 C337.5,381.5 334.4,379.4 330.2,377.5 C326.0,375.6 320.2,374.4 315.2,372.5 C310.2,370.6 303.6,368.5 300.1,366.3 C296.6,364.1 296.8,361.6 294.1,359.2 C291.5,356.8 287.5,353.6 284.2,351.8 C280.9,350.0 278.0,348.7 274.3,348.1 C270.6,347.5 266.0,348.3 261.9,348.1 C257.8,347.9 253.2,347.8 249.5,346.8 C245.8,345.8 242.7,344.2 239.6,341.9 C236.5,339.6 233.2,335.5 230.9,333.2 C228.6,330.9 228.7,327.7 226,328 C223.3,328.3 191.0,372.2 215,335 C239.0,297.8 342.7,140.8 370,105 C397.3,69.2 375.0,116.9 378.8,120.3Z" fill="#ff0000"/>
<path d="M531,189.5 C532.9,186.6 536.9,184.3 539.6,182.3 C542.3,180.3 544.5,178.6 547,177.4 C549.5,176.2 552.1,175.1 554.4,174.9 C556.7,174.7 559.0,175.2 560.6,176.2 C562.2,177.2 563.3,179.2 563.7,181.1 C564.1,182.9 563.8,185.3 563.1,187.3 C562.4,189.3 560.9,191.0 559.4,192.9 C557.9,194.8 555.6,196.8 554.4,198.5 C553.2,200.2 552.4,201.8 552,203.4 C551.6,205.1 551.8,206.6 552,208.4 C552.2,210.2 555.5,211.7 553.5,214 C551.5,216.3 544.6,219.3 540,222 C535.4,224.7 530.2,231.2 526,230 C521.8,228.8 514.7,220.0 515,215 C515.3,210.0 525.3,204.2 528,200 C530.7,195.8 529.1,192.4 531,189.5Z" fill="#ff0000"/>
<path d="M587.8,192.7 C587.6,188.5 586.5,184.3 586.5,180.1 C586.5,175.9 587.2,171.3 587.8,167.6 C588.4,163.8 588.6,159.9 590.3,157.6 C592.0,155.3 594.5,153.8 597.8,153.8 C601.1,153.8 606.1,157.0 610.3,157.6 C614.5,158.2 618.7,158.2 622.9,157.6 C627.1,157.0 631.2,155.3 635.4,153.8 C639.6,152.3 644.1,149.9 647.9,148.8 C651.6,147.8 655.2,147.1 657.9,147.5 C660.6,147.9 662.7,149.2 664.2,151.3 C665.7,153.4 666.3,157.0 666.7,160.1 C667.1,163.2 668.6,166.8 666.7,170.1 C664.8,173.4 661.5,177.6 655.4,180.1 C649.3,182.6 638.8,181.8 630.4,185.1 C622.0,188.4 612.4,196.8 605.3,200.2 C598.2,203.5 590.7,206.4 587.8,205.2 C584.9,203.9 588.0,196.9 587.8,192.7Z" fill="#ff0000"/>
<path d="M234.6,361.3 C234.6,359.0 235.6,356.1 237.1,354.5 C238.6,352.9 241.3,351.8 243.4,351.8 C245.5,351.8 248.5,352.9 249.9,354.5 C251.3,356.1 252.1,359.0 252.1,361.3 C252.1,363.6 251.3,366.5 249.9,368.1 C248.5,369.7 245.5,370.8 243.4,370.8 C241.3,370.8 238.6,369.7 237.1,368.1 C235.6,366.5 234.6,363.6 234.6,361.3Z" fill="#ff0000"/>
<path d="M373.8,232.7 C374.4,229.4 375.3,225.2 377.6,222.7 C379.9,220.2 383.4,218.6 387.6,217.7 C391.8,216.8 398.1,218.4 402.7,217.2 C407.3,215.9 411.0,213.5 415.2,210.2 C419.4,206.9 423.9,202.6 427.7,197.6 C431.4,192.6 434.8,183.8 437.7,180.1 C440.6,176.3 442.6,175.7 445.3,175.1 C448.0,174.5 451.9,174.6 454,176.3 C456.1,178.0 457.2,181.1 457.8,185.1 C458.4,189.1 457.4,195.5 457.8,200.1 C458.2,204.7 458.6,208.9 460.3,212.7 C462.0,216.5 469.1,219.8 467.8,222.7 C466.6,225.6 457.6,228.1 452.8,230.2 C448.0,232.3 443.6,234.4 439,235.2 C434.4,236.0 429.6,235.8 425.2,235.2 C420.8,234.6 416.4,231.5 412.7,231.5 C408.9,231.5 405.8,232.7 402.7,235.2 C399.6,237.7 396.4,243.4 393.9,246.5 C391.4,249.6 390.3,252.9 387.6,254 C384.9,255.1 379.9,254.7 377.6,252.8 C375.3,250.9 374.4,246.0 373.8,242.7 C373.2,239.3 373.2,236.0 373.8,232.7Z" fill="#ff5500"/>
<path d="M340.4,330.3 C340.7,326.1 341.2,322.7 342.9,320.2 C344.6,317.7 347.5,316.1 350.4,315.2 C353.3,314.3 357.1,314.3 360.4,314.7 C363.7,315.1 368.1,315.5 370.4,317.7 C372.7,319.9 373.8,323.9 374.2,327.7 C374.6,331.5 373.5,336.1 372.9,340.3 C372.3,344.5 372.1,349.2 370.4,352.8 C368.7,356.4 365.8,359.9 362.9,361.6 C360.0,363.3 356.0,363.4 352.9,362.8 C349.8,362.2 346.1,360.7 344.1,357.8 C342.1,354.9 341.5,349.9 340.9,345.3 C340.3,340.7 340.1,334.5 340.4,330.3Z" fill="#ff5500"/>
<path d="M412.6,95.2 C418.5,96.7 428.5,94.1 435.2,93.9 C441.9,93.7 448.5,92.9 452.7,93.9 C456.9,95.0 458.4,97.1 460.3,100.2 C462.2,103.3 462.3,108.5 464,112.7 C465.7,116.9 466.8,121.8 470.3,125.3 C473.9,128.8 479.5,131.7 485.3,134 C491.1,136.3 498.7,137.7 505.4,139 C512.1,140.3 520.4,140.1 525.4,141.6 C530.4,143.1 532.0,146.4 535.4,147.8 C538.8,149.2 543.0,150.7 545.5,150.3 C548.0,149.9 547.2,147.8 550.1,145.3 C553.0,142.8 558.5,138.6 562.7,135.3 C566.9,132.0 571.0,127.8 575.2,125.3 C579.4,122.8 583.5,120.9 587.7,120.3 C591.9,119.7 596.9,119.8 600.3,121.5 C603.6,123.2 605.3,127.2 607.8,130.3 C610.3,133.4 611.5,138.2 615.3,140.3 C619.0,142.4 625.3,143.6 630.3,142.8 C635.3,142.0 640.8,137.4 645.4,135.3 C650.0,133.2 654.4,130.7 657.9,130.3 C661.4,129.9 664.0,131.1 666.2,132.8 C668.4,134.5 669.8,137.4 671.2,140.3 C672.7,143.2 673.9,147.1 674.9,150.4 C675.9,153.8 674.9,156.3 677.4,160.4 C679.9,164.5 679.6,173.4 690,175 C700.4,176.6 719.2,182.5 740,170 C760.8,157.5 802.5,129.2 815,100 C827.5,70.8 885.0,12.5 815,-5 C745.0,-22.5 464.2,-20.0 395,-5 C325.8,10.0 397.1,68.3 400,85 C402.9,101.7 406.7,93.7 412.6,95.2Z" fill="#ff8000"/>
<path d="M470.3,66.4 C471.1,65.2 474.9,63.3 477.8,61.4 C480.7,59.5 485.1,56.1 487.8,55.1 C490.5,54.1 493.7,54.1 494.1,55.1 C494.5,56.1 492.6,59.5 490.3,61.4 C488.0,63.3 483.2,65.2 480.3,66.4 C477.4,67.7 474.5,68.9 472.8,68.9 C471.1,68.9 469.5,67.7 470.3,66.4Z" fill="#ff5500"/>
<path d="M217.8,356.3 C219.5,359.4 223.2,361.1 225.3,363.8 C227.4,366.5 229.2,368.6 230.3,372.6 C231.4,376.6 231.6,383.4 231.6,387.6 C231.6,391.8 231.4,394.5 230.3,397.6 C229.2,400.7 227.8,404.1 225.3,406.4 C222.8,408.7 219.5,410.6 215.3,411.4 C211.1,412.2 204.9,411.0 200.3,411.4 C195.7,411.8 191.5,412.0 187.7,413.9 C183.9,415.8 179.8,418.7 177.7,422.7 C175.6,426.7 176.4,433.5 175.2,437.7 C173.9,441.9 171.7,444.0 170.2,447.8 C168.7,451.6 167.2,456.1 166.4,460.3 C165.7,464.5 165.3,468.6 165.7,472.8 C166.1,477.0 168.4,485.0 168.9,485.4 C169.4,485.8 168.4,474.2 168.5,475 C168.6,475.8 168.7,485.3 169.5,490 C170.3,494.7 172.1,498.3 173.5,503 C174.9,507.7 176.9,514.0 178,518 C179.1,522.0 179.2,523.3 180,527 C180.8,530.7 182.0,535.8 183,540 C184.0,544.2 186.5,546.2 186,552 C185.5,557.8 204.3,567.0 180,575 C155.7,583.0 63.3,605.8 40,600 C16.7,594.2 10.8,582.5 40,540 C69.2,497.5 185.4,375.6 215,345 C244.6,314.4 216.1,353.2 217.8,356.3Z" fill="#ff8000"/>
<path d="M252.9,393.9 C253.1,391.0 253.7,386.6 255.4,383.9 C257.1,381.2 260.0,378.7 262.9,377.6 C265.8,376.6 270.4,376.1 272.9,377.6 C275.4,379.1 277.3,383.1 277.9,386.4 C278.5,389.7 277.9,394.4 276.7,397.6 C275.4,400.8 273.1,404.1 270.4,405.7 C267.7,407.3 263.1,407.9 260.4,407.2 C257.7,406.5 255.3,403.6 254.1,401.4 C252.8,399.2 252.7,396.8 252.9,393.9Z" fill="#ff8000"/>
<path d="M211.9,538.9 C213.4,538.7 215.5,541.0 216.4,542.7 C217.3,544.4 217.6,546.9 217.2,549 C216.8,551.1 215.3,554.0 213.9,555.2 C212.5,556.5 210.1,557.1 208.9,556.5 C207.7,555.9 206.8,553.6 206.6,551.5 C206.4,549.4 206.7,546.1 207.6,544 C208.5,541.9 210.4,539.1 211.9,538.9Z" fill="#ff8000"/>
<path d="M444.2,535.2 C441.6,533.5 442.9,527.9 443.4,525.2 C443.9,522.5 445.8,520.2 447.4,518.9 C449.0,517.5 451.1,516.7 452.9,517.1 C454.6,517.5 456.8,518.4 457.9,521.4 C458.9,524.4 461.5,532.9 459.2,535.2 C456.9,537.5 446.8,536.9 444.2,535.2Z" fill="#ff8000"/>
<path d="M514,36 C515.3,44.5 517.2,43.2 520,46 C522.8,48.8 526.7,50.3 531,53 C535.3,55.7 540.5,58.7 546,62 C551.5,65.3 557.7,69.5 564,73 C570.3,76.5 578.0,80.3 584,83 C590.0,85.7 595.3,87.8 600,89 C604.7,90.2 607.8,89.0 612,90 C616.2,91.0 620.3,94.5 625,95 C629.7,95.5 635.8,93.0 640,93 C644.2,93.0 646.3,93.8 650,95 C653.7,96.2 657.8,98.7 662,100 C666.2,101.3 670.0,102.7 675,103 C680.0,103.3 686.8,103.9 692,102 C697.2,100.1 701.8,94.7 706.3,91.5 C710.8,88.3 714.2,85.2 718.8,82.7 C723.4,80.2 730.0,77.7 733.8,76.4 C737.5,75.2 739.8,73.7 741.3,75.2 C742.8,76.7 742.3,82.1 742.6,85.2 C742.9,88.3 742.1,91.5 743.3,94 C744.5,96.5 738.0,99.0 750,100 C762.0,101.0 804.2,117.5 815,100 C825.8,82.5 865.5,12.5 815,-5 C764.5,-22.5 562.2,-11.8 512,-5 C461.8,1.8 512.7,27.5 514,36Z" fill="#ff9500"/>
<path d="M549,100 C549.0,98.7 549.7,96.9 550.5,96 C551.3,95.1 552.8,94.5 554,94.5 C555.2,94.5 556.7,95.1 557.5,96 C558.3,96.9 559.0,98.7 559,100 C559.0,101.3 558.3,103.1 557.5,104 C556.7,104.9 555.2,105.5 554,105.5 C552.8,105.5 551.3,104.9 550.5,104 C549.7,103.1 549.0,101.3 549,100Z" fill="#ff9500"/>
<path d="M157.6,436.5 C160.3,439.1 157.7,442.2 156.4,445.3 C155.2,448.4 151.8,452.0 150.1,455.3 C148.4,458.6 147.3,462.0 146.4,465.3 C145.5,468.6 144.9,471.4 144.8,475 C144.7,478.6 145.0,483.1 145.8,487.2 C146.6,491.3 148.0,495.8 149.5,499.6 C151.0,503.4 153.2,506.9 155,510 C156.8,513.1 158.9,515.7 160,518 C161.1,520.3 161.1,521.5 161.5,524 C161.9,526.5 162.9,529.8 162.7,532.8 C162.5,535.8 161.5,539.0 160.4,541.7 C159.3,544.4 157.7,547.0 156,549.2 C154.3,551.4 152.0,553.2 150,555.1 C148.0,557.0 145.8,557.0 144.1,560.3 C142.4,563.6 159.0,568.4 140,575 C121.0,581.6 48.3,605.8 30,600 C11.7,594.2 11.7,568.3 30,540 C48.3,511.7 118.7,447.2 140,430 C161.3,412.8 154.9,433.9 157.6,436.5Z" fill="#ff9500"/>
<path d="M83.5,584 C80.7,581.7 83.9,576.7 84.7,574.4 C85.5,572.1 86.9,570.9 88.4,570 C89.9,569.1 92.0,568.8 93.6,569.2 C95.2,569.6 97.0,570.8 98.1,572.2 C99.2,573.6 99.8,574.8 100.3,577.4 C100.8,580.0 104.1,586.9 101.3,588 C98.5,589.1 86.3,586.3 83.5,584Z" fill="#ff8000"/>
<path d="M201.5,382.1 C201.6,381.6 202.2,380.7 203.3,380.6 C204.4,380.5 206.8,381.0 207.8,381.4 C208.8,381.8 209.5,382.7 209.3,383.1 C209.1,383.6 207.6,384.0 206.5,384.1 C205.4,384.2 203.6,383.9 202.8,383.6 C202.0,383.3 201.4,382.6 201.5,382.1Z" fill="#ff9500"/>
<path d="M582,28 C584.5,36.3 590.7,41.3 595,45 C599.3,48.7 602.2,49.5 608,50 C613.8,50.5 623.8,48.8 630,48 C636.2,47.2 641.3,47.0 645,45 C648.7,43.0 649.3,39.3 652,36 C654.7,32.7 656.2,27.5 661,25 C665.8,22.5 676.2,20.2 681,21 C685.8,21.8 688.1,25.7 690,30 C691.9,34.3 691.8,42.8 692.5,47 C693.2,51.2 688.4,53.2 694,55 C699.6,56.8 716.0,56.7 726,57.5 C736.0,58.3 747.3,58.3 754,60 C760.7,61.7 763.2,64.2 766,67.5 C768.8,70.8 766.2,79.6 771,80 C775.8,80.4 787.7,80.0 795,70 C802.3,60.0 811.7,32.5 815,20 C818.3,7.5 854.2,-0.8 815,-5 C775.8,-9.2 618.8,-10.5 580,-5 C541.2,0.5 579.5,19.7 582,28Z" fill="#ffaa00"/>
<path d="M671.9,66.4 C671.8,64.2 672.4,61.7 673.7,60.1 C675.0,58.5 677.8,57.0 679.9,56.9 C682.0,56.8 684.9,57.8 686.2,59.4 C687.6,61.0 688.1,64.1 688,66.4 C687.9,68.7 687.1,71.6 685.7,73.2 C684.4,74.8 681.8,75.9 679.9,75.9 C678.0,75.9 675.5,74.8 674.2,73.2 C672.9,71.6 672.0,68.6 671.9,66.4Z" fill="#ffaa00"/>
<path d="M137.7,463.5 C139.3,466.8 139.1,470.9 139.6,474.8 C140.1,478.8 140.2,483.3 140.8,487.2 C141.5,491.1 142.4,494.5 143.5,498 C144.6,501.5 146.7,505.2 147.5,508 C148.3,510.8 148.3,512.4 148.6,515 C148.9,517.6 149.4,520.9 149.3,523.9 C149.2,526.9 148.7,530.1 147.8,532.8 C146.9,535.5 145.9,537.9 144.1,540.2 C142.2,542.6 139.2,544.9 136.7,546.9 C134.2,548.9 131.5,550.9 129.3,552.1 C127.1,553.4 125.3,554.3 123.3,554.4 C121.3,554.5 119.4,553.8 117.4,552.9 C115.4,552.0 113.4,550.5 111.4,549.2 C109.4,548.0 107.7,546.3 105.5,545.4 C103.3,544.5 100.8,544.2 98.1,544 C95.4,543.8 91.9,544.0 89.2,544 C86.5,544.0 84.9,544.7 81.7,544 C78.5,543.3 72.0,544.0 70,540 C68.0,536.0 60.0,534.2 70,520 C80.0,505.8 118.7,464.4 130,455 C141.3,445.6 136.1,460.2 137.7,463.5Z" fill="#ffaa00"/>
<path d="M102.6,521.7 C102.6,520.8 103.1,519.7 103.7,519.1 C104.3,518.5 105.4,518.1 106.2,518.1 C107.0,518.1 108.2,518.5 108.8,519.1 C109.4,519.7 109.8,520.8 109.8,521.7 C109.8,522.6 109.4,523.7 108.8,524.3 C108.2,524.9 107.0,525.3 106.2,525.3 C105.4,525.3 104.3,524.9 103.7,524.3 C103.1,523.7 102.6,522.6 102.6,521.7Z" fill="#ff9500"/>
<path d="M133.2,469 C134.7,470.8 133.9,475.7 134.2,478.5 C134.5,481.3 134.8,483.8 135.2,486 C135.5,488.2 136.0,489.7 136.3,492 C136.6,494.3 136.9,497.7 137,500 C137.1,502.3 137.4,504.2 137,506 C136.6,507.8 135.6,509.3 134.6,510.7 C133.6,512.1 132.3,513.5 130.9,514.4 C129.5,515.3 127.9,516.2 126,516.3 C124.1,516.4 121.8,515.5 119.7,515 C117.6,514.5 115.6,513.7 113.5,513.2 C111.4,512.7 109.0,512.1 107.3,512 C105.5,511.9 105.0,513.2 103,512.5 C101.0,511.8 91.3,515.4 95,508 C98.7,500.6 118.6,474.5 125,468 C131.4,461.5 131.7,467.2 133.2,469Z" fill="#ffff00"/>
</g>
<g fill="none" stroke="#9a86ff" stroke-opacity="0.3" stroke-width="0.8" clip-path="url(#land)">
<path d="M362.8,167.1 C365.3,166.0 372.0,160.6 377.9,160.3 C383.8,160.0 391.4,166.5 398.1,165.4 C404.8,164.3 411.6,156.0 418.3,153.6 C425.0,151.2 431.8,150.2 438.5,150.9 C445.2,151.6 451.9,157.2 458.6,157.7 C465.3,158.1 471.9,152.6 478.8,153.6 C485.7,154.6 496.5,162.0 500,163.7"/>
<path d="M364.5,170.4 C363.7,174.3 359.2,186.2 359.5,194 C359.8,201.8 366.2,210.2 366.2,217.5 C366.2,224.8 359.8,231.0 359.5,237.7 C359.2,244.4 365.1,251.2 364.5,257.9 C363.9,264.6 355.0,273.0 356.1,278 C357.2,283.0 365.3,285.3 371.2,288.1 C377.1,290.9 385.8,294.8 391.4,294.8 C397.0,294.8 402.6,289.2 404.8,288.1"/>
<path d="M327.5,231 C328.1,234.9 331.5,246.7 330.9,254.5 C330.3,262.3 324.7,270.1 324.1,278 C323.5,285.9 324.7,296.6 327.5,301.6 C330.3,306.7 334.8,307.5 341,308.3 C347.2,309.1 358.4,308.9 364.5,306.6 C370.6,304.4 375.7,296.8 377.9,294.8"/>
<path d="M404.8,182.2 C407.1,181.4 413.8,176.9 418.3,177.2 C422.8,177.5 430.0,180.0 431.7,183.9 C433.4,187.8 430.6,196.2 428.4,200.7 C426.2,205.2 422.2,210.2 418.3,210.8 C414.4,211.4 407.1,208.9 404.8,204.1 C402.6,199.3 404.8,185.8 404.8,182.2"/>
<path d="M377.9,294.8 C381.3,293.1 392.5,288.7 398.1,284.8 C403.7,280.9 406.0,275.2 411.6,271.3 C417.2,267.4 426.1,265.1 431.7,261.2 C437.3,257.3 440.7,252.3 445.2,247.8 C449.7,243.3 456.4,236.6 458.6,234.3"/>
<path d="M404.8,288.1 C407.1,290.4 412.7,298.2 418.3,301.6 C423.9,305.0 431.8,308.3 438.5,308.3 C445.2,308.3 451.9,301.6 458.6,301.6 C465.3,301.6 473.2,305.0 478.8,308.3 C484.4,311.6 490.1,319.5 492.3,321.7"/>
<path d="M290.5,308.3 C291.6,310.5 292.7,319.5 297.2,321.7 C301.7,323.9 312.3,325.0 317.4,321.7 C322.4,318.4 325.8,305.0 327.5,301.6"/>
<path d="M252,389.3 C254.1,392.8 264.0,403.3 264.7,410.4 C265.4,417.4 256.2,424.5 256.2,431.6 C256.2,438.7 261.9,446.5 264.7,452.8 C267.5,459.1 273.8,463.4 273.1,469.7 C272.4,476.0 262.5,487.4 260.4,490.9"/>
<path d="M307,406.2 C309.8,409.7 321.8,420.3 323.9,427.4 C326.0,434.4 322.5,441.4 319.7,448.5 C316.9,455.6 308.4,461.2 307,469.7 C305.6,478.2 308.4,491.5 311.2,499.3 C314.0,507.1 321.8,513.5 323.9,516.3"/>
<path d="M323.9,427.4 C328.1,427.8 342.2,430.6 349.3,429.5 C356.4,428.4 360.7,421.7 366.3,421 C371.9,420.3 377.6,426.4 383.2,425.3 C388.8,424.2 394.5,417.9 400.2,414.7 C405.9,411.5 411.5,409.7 417.1,406.2 C422.7,402.7 428.4,397.0 434,393.5 C439.6,390.0 448.2,386.4 451,385"/>
<path d="M366.3,421 C368.4,425.6 377.6,439.7 379,448.5 C380.4,457.3 376.9,466.1 374.8,473.9 C372.7,481.7 365.6,488.8 366.3,495.1 C367.0,501.5 374.8,511.3 379,512 C383.2,512.7 389.6,501.4 391.7,499.3"/>
<path d="M379,512 C383.2,512.7 396.6,517.0 404.4,516.3 C412.2,515.6 419.2,512.0 425.6,507.8 C432.0,503.6 438.3,497.2 442.5,490.9 C446.7,484.5 451.0,476.8 451,469.7 C451.0,462.6 441.8,455.6 442.5,448.5 C443.2,441.4 450.3,433.0 455.2,427.4 C460.1,421.8 469.3,416.8 472.1,414.7"/>
<path d="M323.9,516.3 C327.4,515.6 338.0,511.3 345.1,512 C352.2,512.7 360.7,520.5 366.3,520.5 C371.9,520.5 376.9,513.4 379,512"/>
<path d="M260.4,490.9 C264.6,492.3 278.7,495.1 285.8,499.3 C292.9,503.5 296.5,513.5 302.8,516.3 C309.1,519.1 320.4,516.3 323.9,516.3"/>
<path d="M323.9,516.3 C323.2,520.5 322.5,534.7 319.7,541.7 C316.9,548.8 311.2,553.0 307,558.6 C302.8,564.2 296.4,572.8 294.3,575.6"/>
<path d="M434,393.5 C436.8,395.6 444.6,402.7 451,406.2 C457.4,409.7 465.8,414.7 472.1,414.7 C478.5,414.7 484.2,409.7 489.1,406.2 C494.1,402.7 499.7,395.6 501.8,393.5"/>
<path d="M533,78 C534.2,80.8 536.8,89.7 540,95 C543.2,100.3 550.7,104.5 552,110 C553.3,115.5 546.7,123.0 548,128 C549.3,133.0 555.5,136.3 560,140 C564.5,143.7 570.0,146.7 575,150 C580.0,153.3 584.2,157.5 590,160 C595.8,162.5 606.7,164.2 610,165"/>
<path d="M560,110 C565.0,109.2 580.0,104.7 590,105 C600.0,105.3 610.0,109.5 620,112 C630.0,114.5 640.0,117.8 650,120 C660.0,122.2 671.7,122.5 680,125 C688.3,127.5 694.2,134.2 700,135 C705.8,135.8 712.5,130.8 715,130"/>
<path d="M600,62 C604.2,64.2 616.7,71.2 625,75 C633.3,78.8 640.8,81.7 650,85 C659.2,88.3 671.7,90.8 680,95 C688.3,99.2 696.7,107.5 700,110"/>
</g>
<rect x="59.8" y="9.2" width="742.9000000000001" height="611.0" fill="none" stroke="#c8c8c8" stroke-width="1"/>
<g stroke="#c8c8c8" stroke-width="1">
<line x1="76.2" y1="0" x2="76.2" y2="9.2"/>
<line x1="76.2" y1="620.2" x2="76.2" y2="628.5"/>
<line x1="179.9" y1="0" x2="179.9" y2="9.2"/>
<line x1="179.9" y1="620.2" x2="179.9" y2="628.5"/>
<line x1="283.6" y1="0" x2="283.6" y2="9.2"/>
<line x1="283.6" y1="620.2" x2="283.6" y2="628.5"/>
<line x1="387.3" y1="0" x2="387.3" y2="9.2"/>
<line x1="387.3" y1="620.2" x2="387.3" y2="628.5"/>
<line x1="491.0" y1="0" x2="491.0" y2="9.2"/>
<line x1="491.0" y1="620.2" x2="491.0" y2="628.5"/>
<line x1="594.8" y1="0" x2="594.8" y2="9.2"/>
<line x1="594.8" y1="620.2" x2="594.8" y2="628.5"/>
<line x1="698.4" y1="0" x2="698.4" y2="9.2"/>
<line x1="698.4" y1="620.2" x2="698.4" y2="628.5"/>
<line x1="51.8" y1="620.2" x2="59.8" y2="620.2"/>
<line x1="51.8" y1="515.7" x2="59.8" y2="515.7"/>
<line x1="802.7" y1="515.7" x2="808" y2="515.7"/>
<line x1="51.8" y1="411.9" x2="59.8" y2="411.9"/>
<line x1="802.7" y1="411.9" x2="808" y2="411.9"/>
<line x1="51.8" y1="308.1" x2="59.8" y2="308.1"/>
<line x1="802.7" y1="308.1" x2="808" y2="308.1"/>
<line x1="51.8" y1="204.2" x2="59.8" y2="204.2"/>
<line x1="802.7" y1="204.2" x2="808" y2="204.2"/>
<line x1="51.8" y1="100.5" x2="59.8" y2="100.5"/>
<line x1="802.7" y1="100.5" x2="808" y2="100.5"/>
</g>
<rect x="712.15" y="179.6" width="30.95" height="71.3" fill="#ff0000"/>
<rect x="712.15" y="250.4" width="30.95" height="71.3" fill="#ff5500"/>
<rect x="712.15" y="321.2" width="30.95" height="71.3" fill="#ff8000"/>
<rect x="712.15" y="392.0" width="30.95" height="71.3" fill="#ff9500"/>
<rect x="712.15" y="462.8" width="30.95" height="71.3" fill="#ffaa00"/>
<rect x="712.15" y="533.6" width="30.95" height="71.2" fill="#ffff00"/>
<g fill="none" stroke="#2a1fd0" stroke-width="1.1">
<circle cx="533.5" cy="78.3" r="4.1"/>
<circle cx="631.6" cy="84.6" r="4.1"/>
<circle cx="410.5" cy="122.4" r="4.1"/>
<circle cx="599.3" cy="123.1" r="4.1"/>
<circle cx="562.8" cy="168.1" r="4.1"/>
<circle cx="418.1" cy="208.3" r="4.1"/>
<circle cx="336.5" cy="250.2" r="4.1"/>
<circle cx="429.6" cy="274.5" r="4.1"/>
<circle cx="261.4" cy="322.6" r="4.1"/>
<circle cx="359.7" cy="313.9" r="4.1"/>
<circle cx="466" cy="370.2" r="4.1"/>
<circle cx="231.7" cy="387.2" r="4.1"/>
<circle cx="369.2" cy="399.4" r="4.1"/>
<circle cx="494.5" cy="407.3" r="4.1"/>
<circle cx="347.2" cy="448.9" r="4.1"/>
<circle cx="406.1" cy="441" r="4.1"/>
<circle cx="215.5" cy="482.7" r="4.1"/>
<circle cx="476.4" cy="493.5" r="4.1"/>
<circle cx="131.8" cy="515.4" r="4.1"/>
<circle cx="352.6" cy="554" r="4.1"/>
<circle cx="246.9" cy="565.1" r="4.1"/>
</g>
<g fill="none" stroke="#c4c4c4" stroke-width="1">
<circle cx="31.6" cy="93.0" r="2.9"/>
<circle cx="31.6" cy="196.8" r="2.9"/>
<circle cx="31.6" cy="300.7" r="2.9"/>
<circle cx="31.6" cy="404.5" r="2.9"/>
<circle cx="31.6" cy="508.3" r="2.9"/>
<circle cx="84.2" cy="631.6" r="2.9"/>
<circle cx="187.8" cy="631.6" r="2.9"/>
<circle cx="291.5" cy="631.6" r="2.9"/>
<circle cx="395.2" cy="631.6" r="2.9"/>
<circle cx="498.9" cy="631.6" r="2.9"/>
<circle cx="602.6" cy="631.6" r="2.9"/>
<circle cx="706.3" cy="631.6" r="2.9"/>
</g>
</svg>
<div class="t ax" style="left:0px;top:90.44px;left:auto;right:783.90px;">45</div>
<div class="t ax" style="left:35.15px;top:90.44px;">N</div>
<div class="t ax" style="left:0px;top:194.24px;left:auto;right:783.90px;">40</div>
<div class="t ax" style="left:35.15px;top:194.24px;">N</div>
<div class="t ax" style="left:0px;top:298.04px;left:auto;right:783.90px;">35</div>
<div class="t ax" style="left:35.15px;top:298.04px;">N</div>
<div class="t ax" style="left:0px;top:401.84px;left:auto;right:783.90px;">30</div>
<div class="t ax" style="left:35.15px;top:401.84px;">N</div>
<div class="t ax" style="left:0px;top:505.64px;left:auto;right:783.90px;">25</div>
<div class="t ax" style="left:35.15px;top:505.64px;">N</div>
<div class="t ax" style="left:0px;top:609.44px;left:auto;right:783.90px;">20</div>
<div class="t ax" style="left:35.15px;top:609.44px;">N</div>
<div class="t ax" style="left:0px;top:630.24px;left:auto;right:727.45px;">100</div>
<div class="t ax" style="left:92.7px;top:630.24px;">E</div>
<div class="t ax" style="left:0px;top:630.24px;left:auto;right:623.75px;">105</div>
<div class="t ax" style="left:196.4px;top:630.24px;">E</div>
<div class="t ax" style="left:0px;top:630.24px;left:auto;right:520.05px;">110</div>
<div class="t ax" style="left:300.1px;top:630.24px;">E</div>
<div class="t ax" style="left:0px;top:630.24px;left:auto;right:416.35px;">115</div>
<div class="t ax" style="left:403.8px;top:630.24px;">E</div>
<div class="t ax" style="left:0px;top:630.24px;left:auto;right:312.65px;">120</div>
<div class="t ax" style="left:507.5px;top:630.24px;">E</div>
<div class="t ax" style="left:0px;top:630.24px;left:auto;right:208.95px;">125</div>
<div class="t ax" style="left:611.2px;top:630.24px;">E</div>
<div class="t ax" style="left:0px;top:630.24px;left:auto;right:105.25px;">130</div>
<div class="t ax" style="left:714.9px;top:630.24px;">E</div>
<div class="t ax" style="left:748.6px;top:169.69px;">0.90</div>
<div class="t ax" style="left:748.6px;top:240.49px;">0.70</div>
<div class="t ax" style="left:748.6px;top:311.29px;">0.60</div>
<div class="t ax" style="left:748.6px;top:382.09px;">0.47</div>
<div class="t ax" style="left:748.6px;top:452.89px;">0.38</div>
<div class="t ax" style="left:748.6px;top:523.69px;">0.29</div>
<div class="t ax" style="left:748.6px;top:594.44px;">0.00</div>
<div class="t city" style="left:503.65px;top:58.03px;font-size:22.5px;transform:scaleX(0.663)">乌兰浩特</div>
<div class="t city" style="left:610.81px;top:60.83px;font-size:21.5px;transform:scaleX(0.694)">哈尔滨</div>
<div class="t city" style="left:384.32px;top:99.72px;font-size:22.5px;transform:scaleX(0.645)">锡林浩特</div>
<div class="t city" style="left:582.97px;top:102.83px;font-size:21.51px;transform:scaleX(0.879)">长春</div>
<div class="t city" style="left:543.43px;top:149.39px;font-size:23px;transform:scaleX(0.941)">沈阳</div>
<div class="t city" style="left:400.46px;top:186.26px;font-size:23px;transform:scaleX(0.806)">北京</div>
<div class="t city" style="left:317.83px;top:228.63px;font-size:22.69px;transform:scaleX(0.852)">太原</div>
<div class="t city" style="left:411.43px;top:253.75px;font-size:22.69px;transform:scaleX(0.94)">济南</div>
<div class="t city" style="left:246.06px;top:299.81px;font-size:23px;transform:scaleX(0.822)">西安</div>
<div class="t city" style="left:338.48px;top:290.35px;font-size:22.58px;transform:scaleX(0.921)">郑州</div>
<div class="t city" style="left:445.3px;top:346.65px;font-size:22.58px;transform:scaleX(1.033)">南京</div>
<div class="t city" style="left:213.64px;top:365.63px;font-size:22.83px;transform:scaleX(0.828)">达县</div>
<div class="t city" style="left:352.46px;top:374.92px;font-size:22.07px;transform:scaleX(0.855)">武汉</div>
<div class="t city" style="left:475.7px;top:387.45px;font-size:22.34px;transform:scaleX(1.038)">杭州</div>
<div class="t city" style="left:327.53px;top:424.42px;font-size:22.07px;transform:scaleX(0.885)">长沙</div>
<div class="t city" style="left:388.57px;top:416.43px;font-size:22.61px;transform:scaleX(0.906)">南昌</div>
<div class="t city" style="left:198.55px;top:458.92px;font-size:22.28px;transform:scaleX(0.952)">贵阳</div>
<div class="t city" style="left:454.45px;top:469.3px;font-size:23px;transform:scaleX(0.939)">福州</div>
<div class="t city" style="left:114.49px;top:489.47px;font-size:22.67px;transform:scaleX(0.853)">昆明</div>
<div class="t city" style="left:336.75px;top:531.92px;font-size:22.07px;transform:scaleX(0.834)">广州</div>
<div class="t city" style="left:227.14px;top:540.52px;font-size:21.52px;transform:scaleX(0.974)">南宁</div>
</body></html>
